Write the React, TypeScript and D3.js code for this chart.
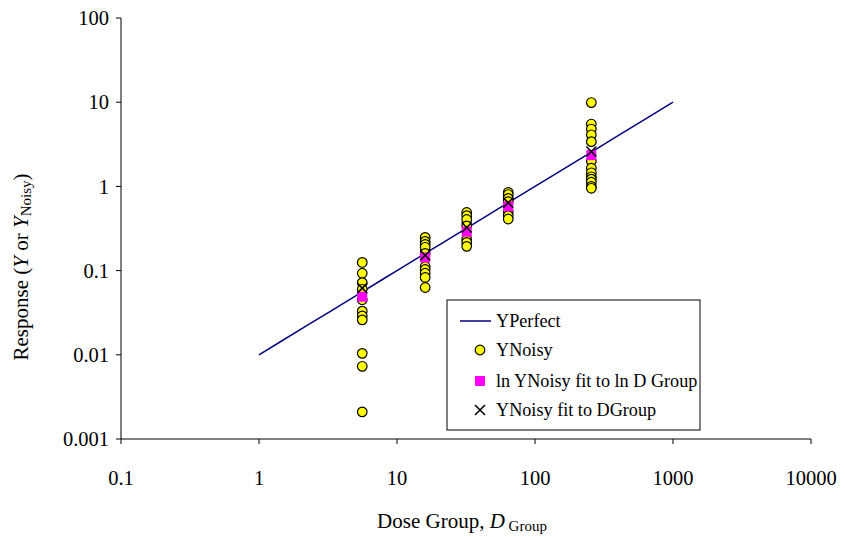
import React from "react";
import * as d3 from "d3";

const perfectDose = [1, 1.4, 2.2, 3.2, 4.5, 5.6, 8, 10, 16, 22, 32, 45, 64, 100, 150, 256, 400, 600, 1000];
const perfectResp = [0.01, 0.014, 0.022, 0.032, 0.045, 0.056, 0.08, 0.1, 0.16, 0.22, 0.32, 0.45, 0.64, 1.0, 1.5, 2.56, 4.0, 6.0, 10];

const groupDose = [5.6, 16, 32, 64, 256];
const noisyByGroup: number[][] = [
  [0.125, 0.093, 0.072, 0.06, 0.045, 0.033, 0.029, 0.026, 0.0104, 0.0073, 0.0021],
  [0.248, 0.222, 0.205, 0.189, 0.16, 0.112, 0.103, 0.093, 0.083, 0.063],
  [0.49, 0.45, 0.405, 0.34, 0.235, 0.216, 0.194],
  [0.85, 0.8, 0.72, 0.66, 0.5, 0.45, 0.41],
  [9.9, 5.5, 4.8, 4.1, 3.4, 2.0, 1.65, 1.45, 1.3, 1.22, 1.12, 1.0, 0.95],
];
const lnFit = [0.049, 0.143, 0.29, 0.58, 2.35];
const linFit = [0.062, 0.152, 0.325, 0.64, 2.6];

const xTicks = [0.1, 1, 10, 100, 1000, 10000];
const yTicks = [0.001, 0.01, 0.1, 1, 10, 100];
const legendLabels = ["YPerfect", "YNoisy", "ln YNoisy fit to ln D Group", "YNoisy fit to DGroup"];

export default function App() {
  const W = 845, H = 537;
  const left = 121, right = 811, top = 18, bottom = 439;
  const x = d3.scaleLog().domain([0.1, 10000]).range([left, right]);
  const y = d3.scaleLog().domain([0.001, 100]).range([bottom, top]);
  const line = d3.line<number>().x((_, i) => x(perfectDose[i])).y((d) => y(d));
  const font = "'Liberation Serif', 'Times New Roman', serif";
  const lx = 447, ly = 300, lw = 253, lh = 130;
  const rows = [321, 350, 381, 410];
  const r = 4.8;
  const s = 5;
  return (
    <svg width={W} height={H} style={{ position: "absolute", left: 0, top: 0, background: "#fff" }} fontFamily={font}>
      <rect x={0} y={0} width={W} height={H} fill="#fff" />
      <line x1={left} y1={top} x2={left} y2={bottom} stroke="#000" strokeWidth={1} />
      <line x1={left} y1={bottom} x2={right} y2={bottom} stroke="#000" strokeWidth={1} />
      {yTicks.map((t) => (
        <g key={"y" + t}>
          <line x1={left - 5} x2={left} y1={y(t)} y2={y(t)} stroke="#000" />
          <text x={left - 12} y={y(t)} dy="0.35em" textAnchor="end" fontSize={20.5}>{String(t)}</text>
        </g>
      ))}
      {xTicks.map((t) => (
        <g key={"x" + t}>
          <line x1={x(t)} x2={x(t)} y1={bottom} y2={bottom + 5} stroke="#000" />
          <text x={x(t)} y={bottom + 46} textAnchor="middle" fontSize={20.5}>{String(t)}</text>
        </g>
      ))}
      <text x={462} y={528} textAnchor="middle" fontSize={21}>
        Dose Group, <tspan fontStyle="italic">D</tspan><tspan fontSize={15} dy={3}> Group</tspan>
      </text>
      <text transform="translate(28,267) rotate(-90)" textAnchor="middle" fontSize={21}>
        Response (<tspan fontStyle="italic">Y</tspan> or <tspan fontStyle="italic">Y</tspan><tspan fontSize={15} dy={3}>Noisy</tspan><tspan dy={-3}>)</tspan>
      </text>
      <path d={line(perfectResp) || ""} fill="none" stroke="#000080" strokeWidth={1.5} />
      {noisyByGroup.map((vals, gi) =>
        vals.map((v, i) => (
          <circle key={gi + "-" + i} cx={x(groupDose[gi])} cy={y(v)} r={r} fill="#FFFF00" stroke="#000" strokeWidth={1.2} />
        ))
      )}
      {lnFit.map((v, i) => (
        <rect key={"p" + i} x={x(groupDose[i]) - s} y={y(v) - s} width={2 * s} height={2 * s} fill="#FF00FF" />
      ))}
      {linFit.map((v, i) => {
        const cx = x(groupDose[i]), cy = y(v);
        return (
          <g key={"x" + i} stroke="#000" strokeWidth={1.6}>
            <line x1={cx - s} y1={cy - s} x2={cx + s} y2={cy + s} />
            <line x1={cx - s} y1={cy + s} x2={cx + s} y2={cy - s} />
          </g>
        );
      })}
      <rect x={lx} y={ly} width={lw} height={lh} fill="#fff" stroke="#000" strokeWidth={1} />
      <line x1={460} x2={491} y1={rows[0]} y2={rows[0]} stroke="#000080" strokeWidth={1.5} />
      <circle cx={480} cy={rows[1]} r={r} fill="#FFFF00" stroke="#000" strokeWidth={1.2} />
      <rect x={480 - s} y={rows[2] - s} width={2 * s} height={2 * s} fill="#FF00FF" />
      <g stroke="#000" strokeWidth={1.6}>
        <line x1={480 - s} y1={rows[3] - s} x2={480 + s} y2={rows[3] + s} />
        <line x1={480 - s} y1={rows[3] + s} x2={480 + s} y2={rows[3] - s} />
      </g>
      {legendLabels.map((l, i) => (
        <text key={l} x={496} y={rows[i]} dy="0.35em" fontSize={18.2}>{l}</text>
      ))}
    </svg>
  );
}
